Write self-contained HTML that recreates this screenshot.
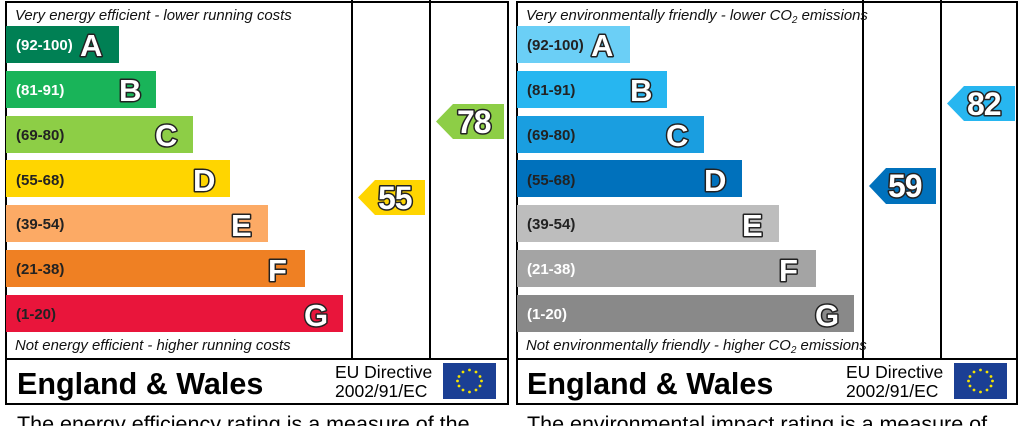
<!DOCTYPE html>
<html><head><meta charset="utf-8"><style>
html,body{margin:0;padding:0;background:#fff;width:1024px;height:426px;overflow:hidden}
svg{display:block}
text{font-family:"Liberation Sans",Arial,sans-serif}
.lb{font-size:15px;font-weight:bold}
.lt{font-size:31px;font-weight:bold;fill:#fff;stroke:#222;stroke-width:3px;paint-order:stroke;stroke-linejoin:round}
.ar{font-size:32px;font-weight:bold;fill:#fff;stroke:#222;stroke-width:3px;paint-order:stroke;stroke-linejoin:round;letter-spacing:-1px}
.it{font-size:14.9px;font-style:italic;fill:#111}
.ew{font-size:30.5px;font-weight:bold;fill:#000}
.eu{font-size:17.5px;fill:#000}
.ft{font-size:21.5px;fill:#000}
</style></head><body>
<svg width="1024" height="426" viewBox="0 0 1024 426">
<defs>
<g id="flag"><rect x="0" y="0" width="53" height="36" fill="#1b3f94"/>
<g fill="#f5e400">
<circle cx="26.5" cy="7" r="1.4"/><circle cx="33" cy="9" r="1.4"/><circle cx="37" cy="13.5" r="1.4"/><circle cx="38.5" cy="18" r="1.4"/><circle cx="37" cy="23" r="1.4"/><circle cx="33" cy="27" r="1.4"/><circle cx="26.5" cy="29" r="1.4"/><circle cx="20" cy="27" r="1.4"/><circle cx="16" cy="23" r="1.4"/><circle cx="14.5" cy="18" r="1.4"/><circle cx="16" cy="13.5" r="1.4"/><circle cx="20" cy="9" r="1.4"/>
</g></g>
</defs>
<!-- LEFT PANEL -->
<g fill="none" stroke="#000" stroke-width="2">
<rect x="6" y="2" width="502" height="402"/>
<line x1="352" y1="0" x2="352" y2="359"/><line x1="430" y1="0" x2="430" y2="359"/>
<line x1="6" y1="359" x2="508" y2="359"/>
</g>
<text class="it" x="15" y="20">Very energy efficient - lower running costs</text>
<rect x="6" y="26" width="113" height="37" fill="#008054"/><text class="lb" x="16" y="50" fill="#fff">(92-100)</text><text class="lt" x="80" y="56">A</text>
<rect x="6" y="71" width="150" height="37" fill="#19b459"/><text class="lb" x="16" y="95" fill="#fff">(81-91)</text><text class="lt" x="119" y="101">B</text>
<rect x="6" y="116" width="187" height="37" fill="#8dce46"/><text class="lb" x="16" y="140" fill="#222">(69-80)</text><text class="lt" x="155" y="146">C</text>
<rect x="6" y="160" width="224" height="37" fill="#ffd500"/><text class="lb" x="16" y="185" fill="#222">(55-68)</text><text class="lt" x="193" y="191">D</text>
<rect x="6" y="205" width="262" height="37" fill="#fcaa65"/><text class="lb" x="16" y="229" fill="#222">(39-54)</text><text class="lt" x="231" y="236">E</text>
<rect x="6" y="250" width="299" height="37" fill="#ef8023"/><text class="lb" x="16" y="274" fill="#222">(21-38)</text><text class="lt" x="268" y="281">F</text>
<rect x="6" y="295" width="337" height="37" fill="#e9153b"/><text class="lb" x="16" y="319" fill="#222">(1-20)</text><text class="lt" x="304" y="326">G</text>
<text class="it" x="15" y="350">Not energy efficient - higher running costs</text>
<polygon points="436,121.5 453,104 504,104 504,139 453,139" fill="#8dce46"/><text class="ar" x="457" y="133">78</text>
<polygon points="358,197.5 375,180 425,180 425,215 375,215" fill="#ffd500"/><text class="ar" x="378" y="209">55</text>
<text class="ew" x="17" y="394">England &amp; Wales</text>
<text class="eu" x="335" y="378">EU Directive</text><text class="eu" x="335" y="397">2002/91/EC</text>
<use href="#flag" x="443" y="363"/>
<text class="ft" x="17" y="431">The energy efficiency rating is a measure of the</text>
<!-- RIGHT PANEL -->
<g fill="none" stroke="#000" stroke-width="2">
<rect x="517" y="2" width="500" height="402"/>
<line x1="863" y1="0" x2="863" y2="359"/><line x1="941" y1="0" x2="941" y2="359"/>
<line x1="517" y1="359" x2="1017" y2="359"/>
</g>
<text class="it" x="526" y="20">Very environmentally friendly - lower CO<tspan font-size="10" dy="3">2</tspan><tspan dy="-3"> emissions</tspan></text>
<rect x="517" y="26" width="113" height="37" fill="#6bcff6"/><text class="lb" x="527" y="50" fill="#222">(92-100)</text><text class="lt" x="591" y="56">A</text>
<rect x="517" y="71" width="150" height="37" fill="#27b6f0"/><text class="lb" x="527" y="95" fill="#222">(81-91)</text><text class="lt" x="630" y="101">B</text>
<rect x="517" y="116" width="187" height="37" fill="#1a9ee0"/><text class="lb" x="527" y="140" fill="#222">(69-80)</text><text class="lt" x="666" y="146">C</text>
<rect x="517" y="160" width="225" height="37" fill="#0071bc"/><text class="lb" x="527" y="185" fill="#222">(55-68)</text><text class="lt" x="704" y="191">D</text>
<rect x="517" y="205" width="262" height="37" fill="#bdbdbd"/><text class="lb" x="527" y="229" fill="#222">(39-54)</text><text class="lt" x="742" y="236">E</text>
<rect x="517" y="250" width="299" height="37" fill="#a4a4a4"/><text class="lb" x="527" y="274" fill="#fff">(21-38)</text><text class="lt" x="779" y="281">F</text>
<rect x="517" y="295" width="337" height="37" fill="#898989"/><text class="lb" x="527" y="319" fill="#fff">(1-20)</text><text class="lt" x="815" y="326">G</text>
<text class="it" x="526" y="350">Not environmentally friendly - higher CO<tspan font-size="10" dy="3">2</tspan><tspan dy="-3"> emissions</tspan></text>
<polygon points="947,103.5 964,86 1015,86 1015,121 964,121" fill="#27b6f0"/><text class="ar" x="967" y="115">82</text>
<polygon points="869,186 886,168 936,168 936,204 886,204" fill="#0071bc"/><text class="ar" x="888" y="197">59</text>
<text class="ew" x="527" y="394">England &amp; Wales</text>
<text class="eu" x="846" y="378">EU Directive</text><text class="eu" x="846" y="397">2002/91/EC</text>
<use href="#flag" x="954" y="363"/>
<text class="ft" x="527" y="431">The environmental impact rating is a measure of</text>
</svg>
</body></html>
